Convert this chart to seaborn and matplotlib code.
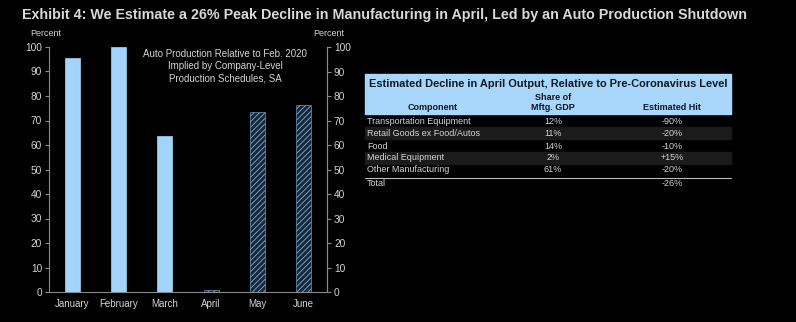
import matplotlib
matplotlib.use("Agg")
import matplotlib.pyplot as plt
import seaborn as sns
import pandas as pd

months = ["January", "February", "March", "April", "May", "June"]
auto_prod = [95.5, 100.0, 63.5, 1.0, 73.5, 76.5]
is_implied = [False, False, False, True, True, True]

components = ["Transportation Equipment", "Retail Goods ex Food/Autos", "Food",
              "Medical Equipment", "Other Manufacturing", "Total"]
shares = ["12%", "11%", "14%", "2%", "61%", ""]
hits = ["-90%", "-20%", "-10%", "+15%", "-20%", "-26%"]

sns.set_theme(style="white")
plt.rcParams["font.family"] = ["Liberation Sans", "DejaVu Sans"]
plt.rcParams["hatch.linewidth"] = 0.6

TXT = "#d4d4d4"
BLUE = "#a3d5fb"
DARK = "#16283a"
HATCH = "#7fb0d6"

fig = plt.figure(figsize=(7.96, 3.22), dpi=100, facecolor="black")
ax = fig.add_axes([49/796, 30/322, (327-49)/796, (292-47)/322])
ax.set_facecolor("black")

df = pd.DataFrame({"Month": months, "Value": auto_prod})
sns.barplot(data=df, x="Month", y="Value", ax=ax, color=BLUE, width=0.33,
            saturation=1)
for p, imp in zip(ax.patches, is_implied):
    if imp:
        p.set_facecolor(DARK)
        p.set_edgecolor(HATCH)
        p.set_hatch("//////")
        p.set_linewidth(0.4)
    else:
        p.set_edgecolor(BLUE)
        p.set_linewidth(0.5)

ax.set_ylim(0, 100)
ax.set_xlim(-0.5, 5.5)
ax.set_xlabel("")
ax.set_ylabel("")
ax.spines["top"].set_visible(False)
for s in ["left", "right", "bottom"]:
    ax.spines[s].set_color("#8a8a8a")
    ax.spines[s].set_linewidth(0.8)
ax.set_yticks(range(0, 101, 10))
ax.tick_params(axis="y", colors="#8a8a8a", labelcolor=TXT, labelsize=7.3,
               length=3, width=0.8, direction="out", left=True, pad=2)
ax.tick_params(axis="x", colors="#8a8a8a", labelcolor=TXT, labelsize=7,
               length=0, pad=5)
ax.set_xticks(range(len(months)))
ax.set_xticks([i + 0.5 for i in range(len(months) - 1)], minor=True)
ax.tick_params(axis="x", which="minor", length=3, color="#8a8a8a", direction="out")

ax2 = ax.twinx()
ax2.set_ylim(0, 100)
ax2.set_yticks(range(0, 101, 10))
for s in ["top", "left", "bottom"]:
    ax2.spines[s].set_visible(False)
ax2.spines["right"].set_color("#8a8a8a")
ax2.spines["right"].set_linewidth(0.8)
ax2.tick_params(axis="y", colors="#8a8a8a", labelcolor=TXT, labelsize=7.3,
                length=3, width=0.8, direction="out", pad=2)
ax2.grid(False)
ax.grid(False)

fig.text(30/796, 1 - 34/322, "Percent", color=TXT, fontsize=6.5, ha="left", va="center")
fig.text(313/796, 1 - 34/322, "Percent", color=TXT, fontsize=6.5, ha="left", va="center")
ax.text(3.3, 99, "Auto Production Relative to Feb. 2020\nImplied by Company-Level\nProduction Schedules, SA",
        color=TXT, fontsize=7, ha="center", va="top", linespacing=1.25)

fig.text(22/796, 1 - 15/322,
         "Exhibit 4: We Estimate a 26% Peak Decline in Manufacturing in April, Led by an Auto Production Shutdown",
         color="#d8d8d8", fontsize=10.3, fontweight="bold", ha="left", va="center")

# Table
W, H = 796, 322
def fx(x): return x / W
def fy(y): return 1 - y / H

hdr = plt.Rectangle((fx(365), fy(114)), fx(731) - fx(365), fy(74) - fy(114),
                    transform=fig.transFigure, color="#a8d7fb", zorder=1)
fig.patches.append(hdr)
fig.text(fx(548), fy(84), "Estimated Decline in April Output, Relative to Pre-Coronavirus Level",
         color="#101820", fontsize=7.9, fontweight="bold", ha="center", va="center")
fig.text(fx(553), fy(97), "Share of", color="#101820", fontsize=6.5,
         fontweight="bold", ha="center", va="center")
fig.text(fx(433), fy(108), "Component", color="#101820", fontsize=6.5,
         fontweight="bold", ha="center", va="center")
fig.text(fx(553), fy(108), "Mftg. GDP", color="#101820", fontsize=6.5,
         fontweight="bold", ha="center", va="center")
fig.text(fx(672), fy(108), "Estimated Hit", color="#101820", fontsize=6.5,
         fontweight="bold", ha="center", va="center")

row_y = [121, 133, 146, 158, 170, 183]
for i, (c, s, h) in enumerate(zip(components, shares, hits)):
    y = row_y[i]
    if i in (1, 3):
        bg = plt.Rectangle((fx(365), fy(y + 6)), fx(731) - fx(365), fy(y - 6) - fy(y + 6),
                           transform=fig.transFigure, color="#1b1b1b", zorder=0)
        fig.patches.append(bg)
    fig.text(fx(367), fy(y), c, color=TXT, fontsize=6.5, ha="left", va="center")
    fig.text(fx(553), fy(y), s, color=TXT, fontsize=6.5, ha="center", va="center")
    fig.text(fx(672), fy(y), h, color=TXT, fontsize=6.5, ha="center", va="center")

sep = plt.Line2D([fx(365), fx(731)], [fy(177.5), fy(177.5)], transform=fig.transFigure,
                 color="#bbbbbb", linewidth=0.8)
fig.lines.append(sep)

fig.savefig("out.png", dpi=100, facecolor="black")
